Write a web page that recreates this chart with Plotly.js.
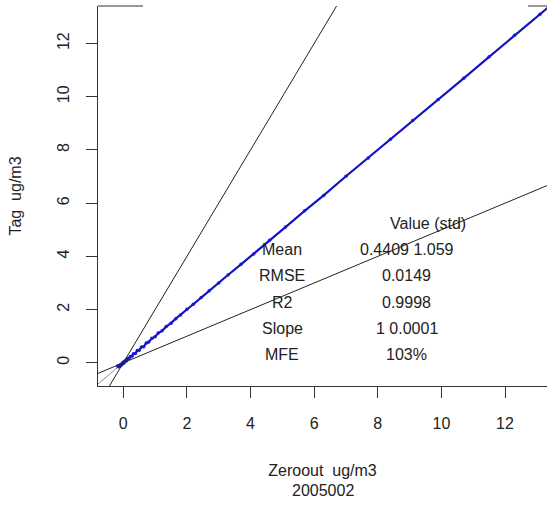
<!DOCTYPE html>
<html>
<head>
<meta charset="utf-8">
<script src="https://cdn.plot.ly/plotly-3.0.1.min.js"></script>
<style>html,body{margin:0;padding:0;background:#fff;}#plot{width:547px;height:505px;}</style>
</head>
<body>
<div id="plot"></div>
<script>
// Observed series (Zeroout vs Tag, ug/m3)
var zeroout = [-0.18,-0.15,-0.12,-0.1,-0.08,-0.05,-0.03,0.0,0.02,0.05,0.08,0.1,0.14,0.18,0.22,0.27,0.32,0.38,0.44,0.5,0.57,0.64,0.72,0.8,0.9,1.0,1.1,1.22,1.35,1.5,1.65,1.8,2.0,2.2,2.45,2.7,3.0,3.3,3.7,4.1,4.6,5.1,5.7,6.3,7.0,7.7,8.4,9.1,9.9,10.7,11.5,12.3,13.1,13.6];
var tag     = [-0.12,-0.15,-0.1,-0.12,-0.06,-0.07,-0.01,-0.03,0.04,0.03,0.1,0.08,0.16,0.16,0.24,0.25,0.34,0.35,0.46,0.47,0.59,0.6,0.74,0.78,0.92,0.98,1.12,1.2,1.36,1.49,1.66,1.8,2.01,2.2,2.45,2.71,3.0,3.31,3.7,4.09,4.61,5.1,5.71,6.29,7.01,7.7,8.4,9.11,9.9,10.69,11.5,12.31,13.1,13.6];

// Reference lines y = slope * x
var refSlopes = [1, 2, 0.5];
var refX = [-2, 15];

// Statistics table
var statNames  = ["Mean", "RMSE", "R2", "Slope", "MFE"];
var statValues = ["0.4409 1.059", "0.0149", "0.9998", "1 0.0001", "103%"];
var statHeader = "Value (std)";
var subtitle   = "2005002";

var xTicks = [0, 2, 4, 6, 8, 10, 12];
var yTicks = [0, 2, 4, 6, 8, 10, 12];

var FONT = "Liberation Sans, Arial, sans-serif";
var traces = [];
traces.push({
  x: zeroout, y: tag, mode: "lines+markers", type: "scatter",
  line: {color: "#1414e6", width: 2.2},
  marker: {color: "#1a1aee", size: 3.5, line: {width: 0}},
  hoverinfo: "skip", showlegend: false
});
refSlopes.forEach(function (s) {
  traces.push({
    x: refX, y: refX.map(function (v) { return s * v; }),
    mode: "lines", type: "scatter",
    line: {color: s === 1 ? "rgba(30,30,30,0.5)" : "#222", width: 1},
    hoverinfo: "skip", showlegend: false
  });
});

var annotations = [];
var statY = [4.25, 3.27, 2.27, 1.29, 0.32];
annotations.push({x: 9.57, y: 5.23, xref: "x", yref: "y", text: statHeader, showarrow: false,
  font: {family: FONT, size: 16, color: "#222"}});
statNames.forEach(function (n, i) {
  annotations.push({x: 5.0, y: statY[i], xref: "x", yref: "y", text: n, showarrow: false,
    font: {family: FONT, size: 16, color: "#222"}});
  annotations.push({x: 8.91, y: statY[i], xref: "x", yref: "y", text: statValues[i], showarrow: false,
    font: {family: FONT, size: 16, color: "#222"}});
});
annotations.push({x: 0.5, y: -0.2763, xref: "paper", yref: "paper", yanchor: "middle", text: subtitle, showarrow: false,
  font: {family: FONT, size: 16, color: "#222"}});

var layout = {
  width: 547, height: 505,
  margin: {l: 98, r: 0, t: 6, b: 119},
  paper_bgcolor: "#fff", plot_bgcolor: "#fff",
  font: {family: FONT, size: 16, color: "#222"},
  showlegend: false,
  xaxis: {
    range: [-0.795, 13.32], tickvals: xTicks, ticktext: xTicks.map(String),
    ticks: "outside", ticklen: 11, tickcolor: "#333", tickwidth: 1,
    showline: true, linecolor: "#333", linewidth: 1, mirror: false,
    showgrid: false, zeroline: false, ticklabelstandoff: 12,
    tickfont: {family: FONT, size: 16, color: "#222"},
    title: {text: "Zeroout\u00a0 ug/m3", font: {family: FONT, size: 16, color: "#222"}, standoff: 33}
  },
  yaxis: {
    range: [-0.872, 13.41], tickvals: yTicks, ticktext: yTicks.map(String),
    ticks: "outside", ticklen: 11, tickcolor: "#333", tickwidth: 1, tickangle: -90,
    showline: true, linecolor: "#333", linewidth: 1,
    showgrid: false, zeroline: false, ticklabelstandoff: 11,
    tickfont: {family: FONT, size: 16, color: "#222"},
    title: {text: "Tag\u00a0 ug/m3", font: {family: FONT, size: 16, color: "#222"}, standoff: 28}
  },
  shapes: [
    {type: "line", xref: "paper", yref: "paper", x0: 0, x1: 0.1002, y0: 1, y1: 1, line: {color: "#333", width: 1}},
    {type: "line", xref: "paper", yref: "paper", x0: 0.9577, x1: 1, y0: 1, y1: 1, line: {color: "#333", width: 1}}
  ],
  annotations: annotations
};

Plotly.newPlot("plot", traces, layout, {staticPlot: true, displayModeBar: false});
</script>
</body>
</html>
